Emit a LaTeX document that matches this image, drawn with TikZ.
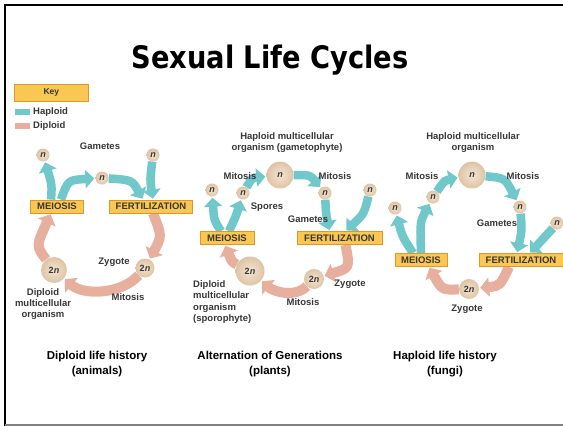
\documentclass[tikz,border=0pt]{standalone}
\usepackage{fontspec}
\setmainfont{Liberation Sans}
\newfontfamily\titlefont[FakeStretch=0.88]{DejaVu Sans}
\usetikzlibrary{arrows.meta,backgrounds}
\definecolor{hapc}{RGB}{112,200,202}
\definecolor{dipc}{RGB}{230,175,158}
\definecolor{boxf}{RGB}{250,200,82}
\definecolor{boxd}{RGB}{222,150,45}
\definecolor{cin}{RGB}{244,228,208}
\definecolor{cout}{RGB}{222,196,166}
\definecolor{txt}{RGB}{55,55,55}
\begin{document}
\begin{tikzpicture}[x=1pt,y=-1pt,
  lab/.style={font=\fontsize{9.5}{11}\selectfont\bfseries, text=txt, inner sep=0pt, align=center},
  captext/.style={font=\fontsize{11.5}{15}\selectfont\bfseries, text=black, inner sep=0pt, align=center},
  stage/.style={draw=boxd, fill=boxf, line width=0.8pt, font=\fontsize{9.5}{10}\selectfont\bfseries, text=txt, inner sep=0pt, minimum height=13pt},
  cell/.style={circle, inner sep=0pt, inner color=cin, outer color=cout, font=\fontsize{9}{9}\selectfont\bfseries, text=txt},
  small/.style={cell, minimum size=13pt},
  mid/.style={cell, minimum size=20pt},
  big/.style={cell, minimum size=27pt},
  hap/.style={draw=hapc, line width=8.5pt, -{Triangle[length=9pt,width=18pt]}, shorten >=1pt},
  dip/.style={draw=dipc, line width=10pt, -{Triangle[length=9pt,width=19pt]}, shorten >=1pt},
]
\useasboundingbox (0,0) rectangle (563,426);
% frame
\draw[line width=1.6pt] (5,426) -- (5,5) -- (563,5);
\draw[gray, line width=1.2pt] (5,425) -- (563,425);
% title
\node[anchor=base, font=\titlefont\bfseries\fontsize{31}{31}\selectfont] (title) at (270,68) {Sexual Life Cycles};
% key
\node[draw=boxd, fill=boxf, line width=0.8pt, minimum width=74pt, minimum height=17pt, anchor=north west, font=\fontsize{8.5}{9}\selectfont\bfseries, text=txt] (key) at (14,84) {Key};
\fill[hapc] (15,109) rectangle (30,115);
\node[lab, anchor=west] (hapkey) at (33,112) {Haploid};
\fill[dipc] (15,123) rectangle (30,129);
\node[lab, anchor=west] (dipkey) at (33,126) {Diploid};

% ===== panel 1 =====
\node[stage, minimum width=53pt] (mei1) at (57,206.5) {MEIOSIS};
\node[stage, minimum width=83pt] (fer1) at (151,206.5) {FERTILIZATION};
\node[small] (n1a) at (43,155) {\itshape n};
\node[small] (n1b) at (153,155) {\itshape n};
\node[small] (n1c) at (102,178) {\itshape n};
\node[cell, minimum size=26pt] (org1) at (54,270) {2\textit{n}};
\node[cell, minimum size=19pt] (zy1) at (145,268) {2\textit{n}};
\node[lab] (gam1) at (100,146) {Gametes};
\node[lab] (zyl1) at (114,262) {Zygote};
\node[lab] (mit1) at (128,297) {Mitosis};
\node[lab, align=center] (dmo1) at (43,304) {Diploid\\multicellular\\organism};

% ===== panel 2 =====
\node[stage, minimum width=54pt] (mei2) at (227,238) {MEIOSIS};
\node[stage, minimum width=85pt] (fer2) at (339.5,238) {FERTILIZATION};
\node[big] (N2) at (280,175) {\itshape n};
\node[small] (n2a) at (212,190) {\itshape n};
\node[small] (n2b) at (243,193) {\itshape n};
\node[small] (n2c) at (325,193) {\itshape n};
\node[small] (n2d) at (370,190) {\itshape n};
\node[cell, minimum size=29pt] (D2) at (250,271) {2\textit{n}};
\node[mid] (zy2) at (314,279) {2\textit{n}};
\node[lab] (hmo2) at (287,143) {Haploid multicellular\\organism (gametophyte)};
\node[lab] (mitl2) at (240,176) {Mitosis};
\node[lab] (mitr2) at (335,176) {Mitosis};
\node[lab] (spo2) at (267,207) {Spores};
\node[lab] (gam2) at (308,219) {Gametes};
\node[lab] (zyl2) at (350,284) {Zygote};
\node[lab] (mit2) at (303,302) {Mitosis};
\node[lab, align=left, anchor=north west, font=\fontsize{9.5}{11.5}\selectfont\bfseries] (dmo2) at (193,280) {Diploid\\multicellular\\organism\\(sporophyte)};

% ===== panel 3 =====
\node[stage, minimum width=52pt] (mei3) at (421,260) {MEIOSIS};
\node[stage, minimum width=84pt] (fer3) at (521,260) {FERTILIZATION};
\node[big] (N3) at (472,175) {\itshape n};
\node[small] (n3a) at (433,197) {\itshape n};
\node[small] (n3b) at (395,208) {\itshape n};
\node[small] (n3c) at (520,207) {\itshape n};
\node[small] (n3d) at (557,223) {\itshape n};
\node[mid] (zy3) at (469,289) {2\textit{n}};
\node[lab] (hmo3) at (473,143) {Haploid multicellular\\organism};
\node[lab] (mitl3) at (422,176) {Mitosis};
\node[lab] (mitr3) at (523,176) {Mitosis};
\node[lab] (gam3) at (497,223) {Gametes};
\node[lab] (zyl3) at (467,309) {Zygote};

% captions
\node[captext] (c1) at (97,364.5) {Diploid life history\\(animals)};
\node[captext] (c2) at (270,364.5) {Alternation of Generations\\(plants)};
\node[captext] (c3) at (445,364.5) {Haploid life history\\(fungi)};

\begin{scope}[on background layer]
\fill[white] (0,0) rectangle (563,426);
% panel 1
\draw[hap] ([xshift=-6pt]mei1.north) .. controls (52,185) .. (n1a);
\draw[hap] ([xshift=4pt]mei1.north) .. controls (68,180) .. (n1c);
\draw[hap] (n1c) .. controls (132,180) .. ([xshift=-8pt]fer1.north);
\draw[hap] (n1b) .. controls (150,180) .. ([xshift=2pt]fer1.north);
\draw[dip] ([xshift=2pt]fer1.south) .. controls (162,236) .. (zy1);
\draw[dip] (zy1) .. controls (122,294) and (84,296) .. (org1);
\draw[dip] (org1) .. controls (36,246) .. ([xshift=-6pt]mei1.south);
% panel 2
\draw[hap] ([xshift=-6pt]mei2.north) .. controls (214,220) .. (n2a);
\draw[hap] ([xshift=2pt]mei2.north) .. controls (236,216) .. (n2b);
\draw[hap] (n2b) .. controls (252,178) .. (N2);
\draw[hap] (N2) .. controls (310,175) .. (n2c);
\draw[hap] (n2c) .. controls (326,214) .. ([xshift=-10pt]fer2.north);
\draw[hap] (n2d) .. controls (364,214) .. ([xshift=6pt]fer2.north);
\draw[dip] ([xshift=6pt]fer2.south) .. controls (350,268) .. (zy2);
\draw[dip] (zy2) .. controls (295,298) and (274,292) .. (D2);
\draw[dip] (D2) .. controls (232,262) .. ([xshift=-2pt]mei2.south);
% panel 3
\draw[hap] ([xshift=-8pt]mei3.north) .. controls (402,236) .. (n3b);
\draw[hap] ([xshift=0pt]mei3.north) .. controls (420,222) .. (n3a);
\draw[hap] (n3a) .. controls (445,180) .. (N3);
\draw[hap] (N3) .. controls (505,178) .. (n3c);
\draw[hap] (n3c) .. controls (522,230) .. ([xshift=-4pt]fer3.north);
\draw[hap] (n3d) .. controls (545,238) .. ([xshift=8pt]fer3.north);
\draw[dip] ([xshift=-12pt]fer3.south) .. controls (500,286) .. (zy3);
\draw[dip] (zy3) .. controls (442,290) .. ([xshift=8pt]mei3.south);
\end{scope}
\end{tikzpicture}
\end{document}
